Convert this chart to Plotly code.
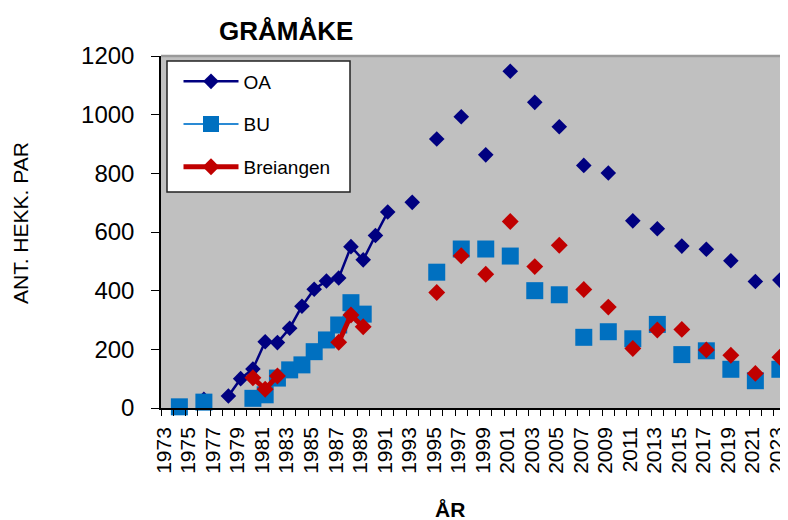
import plotly.graph_objects as go

# ---- data ----
years_all = list(range(1973, 2024))
tick_years = list(range(1973, 2024, 2))

oa_years = [1976, 1978, 1979, 1980, 1981, 1982, 1983, 1984, 1985, 1986, 1987, 1988, 1989, 1990, 1991,
            1993, 1995, 1997, 1999, 2001, 2003, 2005, 2007, 2009, 2011, 2013, 2015, 2017, 2019, 2021, 2023]
oa_values = [30, 41, 100, 133, 226, 223, 272, 347, 405, 433, 443, 550, 505, 588, 668,
             701, 917, 993, 863, 1148, 1042, 959, 827, 801, 638, 611, 552, 541, 502, 431, 436]

bu_years = [1974, 1976, 1980, 1981, 1982, 1983, 1984, 1985, 1986, 1987, 1988, 1989,
            1995, 1997, 1999, 2001, 2003, 2005, 2007, 2009, 2011, 2013, 2015, 2017, 2019, 2021, 2023]
bu_values = [4, 20, 33, 45, 102, 130, 147, 192, 232, 283, 359, 320,
             463, 542, 542, 518, 400, 386, 241, 260, 236, 285, 182, 195, 132, 93, 132]

br_years = [1980, 1981, 1982, 1987, 1988, 1989,
            1995, 1997, 1999, 2001, 2003, 2005, 2007, 2009, 2011, 2013, 2015, 2017, 2019, 2021, 2023]
br_values = [103, 64, 109, 224, 317, 277,
             394, 519, 456, 636, 482, 555, 404, 344, 203, 266, 268, 198, 180, 118, 173]


def full(years, values):
    m = dict(zip(years, values))
    return [m.get(y) for y in years_all]


FONT = "Liberation Sans, Arial, sans-serif"

fig = go.Figure()
fig.add_trace(go.Scatter(
    x=years_all, y=full(oa_years, oa_values), name="OA", mode="lines+markers",
    line=dict(color="#000080", width=2.5),
    marker=dict(symbol="diamond", size=12, color="#000080"),
    connectgaps=False, cliponaxis=False, legendgroup="a"))
fig.add_trace(go.Scatter(
    x=years_all, y=full(bu_years, bu_values), name="BU", mode="lines+markers",
    line=dict(color="#2A8AD4", width=2),
    marker=dict(symbol="square", size=17, color="#0070C0"),
    connectgaps=False, cliponaxis=False, legendgroup="b"))
fig.add_trace(go.Scatter(
    x=years_all, y=full(br_years, br_values), name="Breiangen", mode="lines+markers",
    line=dict(color="#C00000", width=5),
    marker=dict(symbol="diamond", size=13, color="#C00000"),
    connectgaps=False, cliponaxis=False, legendgroup="c"))

# page body has an 8px margin: figure is 780x512 placed at (8, 8)
OFF = 8
W, H = 780, 512
L, R, T, B = 153, 2, 48, 112
pw, ph = W - L - R, H - T - B


def px(x):
    return (x - OFF - L) / pw


def py(y):
    return (H - B - (y - OFF)) / ph


fig.update_layout(
    width=W, height=H,
    margin=dict(l=L, r=R, t=T, b=B, autoexpand=False),
    paper_bgcolor="white", plot_bgcolor="#C0C0C0",
    font=dict(family=FONT, color="black"),
    showlegend=True,
    legend=dict(
        x=px(168.5), y=py(62.5), xanchor="left", yanchor="top",
        bgcolor="rgba(0,0,0,0)", borderwidth=0,
        font=dict(size=19, family=FONT),
        tracegroupgap=15, itemwidth=55, indentation=10,
    ),
    xaxis=dict(
        range=[1972.5, 2023.5], tickmode="array", tickvals=tick_years,
        ticktext=[str(y) for y in tick_years], tickangle=-90,
        tickfont=dict(size=21, family=FONT), ticks="",
        showline=True, linecolor="black", linewidth=1.5,
        showgrid=False, zeroline=False, automargin=False,
        ticklabeloverflow="allow", ticklabelshift=-3,
        minor=dict(ticks="outside", ticklen=6, tickcolor="black", tickwidth=1,
                   tick0=1972.5, dtick=1, showgrid=False),
        ticklabelstandoff=9,
    ),
    yaxis=dict(
        range=[0, 1200], tickmode="linear", tick0=0, dtick=200,
        ticks="outside", ticklen=8, tickcolor="black",
        tickfont=dict(size=24, family=FONT),
        showline=True, linecolor="black", linewidth=1.5,
        showgrid=False, zeroline=False, ticklabelstandoff=12, automargin=False,
    ),
    shapes=[
        dict(type="line", xref="paper", yref="paper", x0=0, x1=1, y0=1, y1=1,
             line=dict(color="#9A9A9A", width=2.5), layer="above"),
        dict(type="line", xref="paper", yref="paper", x0=1, x1=1, y0=0, y1=1,
             line=dict(color="#808080", width=2), layer="above"),
        # legend frame
        dict(type="rect", xref="paper", yref="paper",
             x0=px(167), x1=px(350), y0=py(192), y1=py(61),
             fillcolor="white", line=dict(color="#222222", width=1.5), layer="above"),
    ],
    annotations=[
        dict(text="<b>GRÅMÅKE</b>", xref="paper", yref="paper", x=px(286), y=py(31),
             xanchor="center", yanchor="middle", showarrow=False,
             font=dict(size=26, family=FONT)),
        dict(text="ANT. HEKK. PAR", xref="paper", yref="paper", x=px(20), y=py(223),
             xanchor="center", yanchor="middle", showarrow=False, textangle=-90,
             font=dict(size=21, family=FONT)),
        dict(text="<b>ÅR</b>", xref="paper", yref="paper", x=px(450), y=py(509),
             xanchor="center", yanchor="middle", showarrow=False,
             font=dict(size=21, family=FONT)),
    ],
)

fig.write_html("out.html")
